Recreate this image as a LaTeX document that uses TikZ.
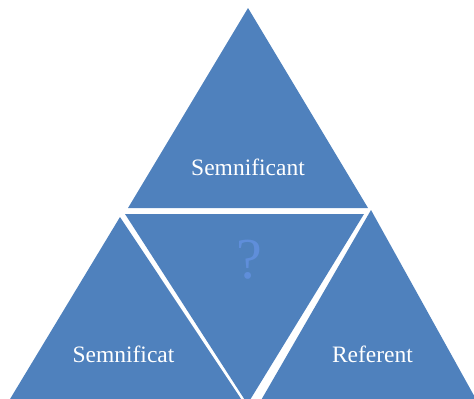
\documentclass[tikz,border=0pt]{standalone}
\usepackage{fontspec}
\setmainfont{Liberation Serif}
\definecolor{triblue}{HTML}{4F81BD}
\definecolor{qblue}{HTML}{5F8EDA}
\begin{document}
\begin{tikzpicture}[x=1pt,y=-1pt,
  tri/.style={fill=triblue},
  lbl/.style={text=white, font=\fontsize{23.5}{28}\selectfont, anchor=base, inner sep=0pt},
  qmark/.style={text=qblue, font=\fontsize{58}{64}\selectfont, anchor=base, inner sep=0pt}]
\useasboundingbox (0,0) rectangle (474,399);
\begin{scope}
\clip (0,0) rectangle (474,399);
\fill[tri] (248,8) -- (368,208) -- (128,208) -- cycle;
\fill[tri] (125,214) -- (364,214) -- (247.5,404) -- cycle;
\fill[tri] (120,217) -- (248.4,410) -- (3.4,410) -- cycle;
\fill[tri] (371,210) -- (482,410) -- (255.4,410) -- cycle;
\end{scope}
\node[lbl] (sig) at (248,175) {Semnificant};
\node[lbl] (semn) at (123.5,362) {Semnificat};
\node[lbl] (ref) at (372.5,362) {Referent};
\node[qmark] (q) at (249,278) {?};
\end{tikzpicture}
\end{document}
